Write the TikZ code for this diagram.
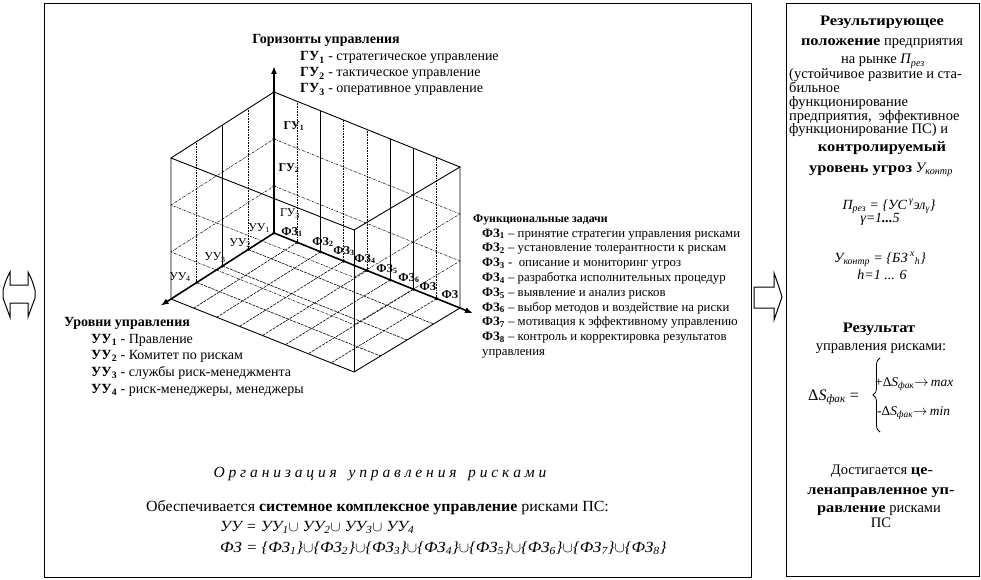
\documentclass[tikz,border=0pt]{standalone}
\usepackage{fontspec}
\usepackage{graphicx}
\setmainfont{Liberation Serif}
\usetikzlibrary{arrows.meta,calc,decorations.pathreplacing}
\newcommand\fsz[1]{\fontsize{#1}{#1}\selectfont}
\newcommand\sbs[1]{\textsubscript{#1}}
\newcommand\sps[1]{\textsuperscript{#1}}
\newcommand\wb[1]{\scalebox{1.13}[1]{\textbf{#1}}}
\begin{document}
\begin{tikzpicture}[x=1pt,y=-1pt,
  boxframe/.style={draw, line width=1.3pt, inner sep=0, anchor=north west},
  axisline/.style={line width=1.6pt, -{Latex[length=8pt,width=6pt]}},
  cubeedge/.style={line width=0.9pt},
  wallline/.style={line width=0.6pt, densely dotted},
  wallsolid/.style={line width=0.5pt},
  levelline/.style={line width=0.5pt, dash pattern=on 2.5pt off 1pt on 0.6pt off 1pt},
  floorline/.style={line width=0.6pt, dash pattern=on 3pt off 1pt},
  axlbl/.style={inner sep=0, font=\fsz{12}\bfseries},
  axlblr/.style={inner sep=0, font=\fsz{12}},
  lw/.style={inner sep=0, anchor=base west},
  lc/.style={inner sep=0, anchor=base},
  arrowshape/.style={draw, line width=1pt, line join=miter},
]
\useasboundingbox (0,0) rectangle (981,580);
% frames
\node[boxframe, minimum width=707pt, minimum height=574pt] (mainframe) at (43.5,3) {};
\node[boxframe, minimum width=193pt, minimum height=573pt] (rightframe) at (786,3) {};
% arrows
\draw[arrowshape] (10,272) .. controls (6,280) .. (3,290) -- (3,298) .. controls (6,308) .. (10,317)
  -- (10,303) -- (28,303) -- (28,317) .. controls (32,308) .. (35,298) -- (35,290) .. controls (32,280) .. (28,272)
  -- (28,285) -- (10,285) -- cycle;
\draw[arrowshape] (754,287) -- (774,287) -- (774,273) .. controls (778,284) .. (782,297)
  .. controls (778,309) .. (774,320) -- (774,308) -- (754,308) -- cycle;

% cube corners
\coordinate (O) at (274,233);
\coordinate (PA) at (460,308);
\coordinate (PB) at (171,299);
\coordinate (PAB) at (354,372);
\coordinate (T) at (274,92);
\coordinate (TA) at (460,167);
\coordinate (TB) at (171,158);
\coordinate (TAB) at (354,230);
% floor grid
\foreach \i in {1,...,7} \draw[floorline] ($(O)!{\i/8}!(PA)$) -- ($(PB)!{\i/8}!(PAB)$);
\foreach \j in {1,2,3} \draw[floorline] ($(O)!{\j/4}!(PB)$) -- ($(PA)!{\j/4}!(PAB)$);
% wall verticals
\foreach \i in {1,3,4,7} \draw[wallline] ($(O)!{\i/8}!(PA)$) -- ($(T)!{\i/8}!(TA)$);
\foreach \i in {2,5,6} \draw[wallsolid] ($(O)!{\i/8}!(PA)$) -- ($(T)!{\i/8}!(TA)$);
\foreach \j in {1,3} \draw[wallline] ($(O)!{\j/4}!(PB)$) -- ($(T)!{\j/4}!(TB)$);
\draw[wallsolid] ($(O)!0.5!(PB)$) -- ($(T)!0.5!(TB)$);
% levels
\foreach \f in {0.3333,0.6667}
  \draw[levelline] ($(O)!\f!(T)$) -- ($(PA)!\f!(TA)$) -- ($(PAB)!\f!(TAB)$) -- ($(PB)!\f!(TB)$) -- cycle;
% cube edges
\draw[cubeedge] (T) -- (TA) -- (TAB) -- (TB) -- cycle;
\draw[cubeedge] (TB) -- (PB) -- (PAB) -- (PA) -- (TA);
\draw[cubeedge] (TAB) -- (PAB);
% axes
\coordinate (Zend) at (274,66);
\coordinate (Aend) at ($(O)!1.07!(PA)$);
\coordinate (Bend) at ($(O)!1.1!(PB)$);
\draw[axisline] (O) -- (Zend);
\draw[axisline] (O) -- (Aend);
\draw[axisline] (O) -- (Bend);
% tick dots
\foreach \i in {1,...,7} \fill ($(O)!{\i/8}!(PA)$) circle (1.7);
\foreach \j in {1,2,3} \fill ($(O)!{\j/4}!(PB)$) circle (1.7);
\foreach \f in {0.3333,0.6667,1} \fill ($(O)!\f!(T)$) circle (1.7);
\fill (O) circle (1.7);
% axis labels
\node[axlbl] (g1) at (294,126) {ГУ\sbs{1}};
\node[axlbl] (g2) at (289,168) {ГУ\sbs{2}};
\node[axlblr] (g3) at (290,214) {ГУ\sbs{3}};
\node[axlbl] (f1) at (292,232) {ФЗ\sbs{1}};
\node[axlbl] (f2) at (323,242) {ФЗ\sbs{2}};
\node[axlbl] (f3) at (344,251) {ФЗ\sbs{3}};
\node[axlbl] (f4) at (365,259) {ФЗ\sbs{4}};
\node[axlbl] (f5) at (387,269) {ФЗ\sbs{5}};
\node[axlbl] (f6) at (409,278) {ФЗ\sbs{6}};
\node[axlbl] (f7) at (428,287) {ФЗ};
\node[axlbl] (f8) at (450,295) {ФЗ};
\node[axlblr] (u4) at (180,277) {УУ\sbs{4}};
\node[axlblr] (u3) at (215,258) {УУ\sbs{3}};
\node[axlblr] (u2) at (240,243) {УУ\sbs{2}};
\node[axlblr] (u1) at (259,228) {УУ\sbs{1}};

% Горизонты
\node[lc, font=\fsz{14}\bfseries] (gt) at (326,44) {Горизонты управления};
\node[lw, font=\fsz{14}] (gl1) at (300,61) {\textbf{ГУ\sbs{1}} - стратегическое управление};
\node[lw, font=\fsz{14}] (gl2) at (300,77) {\textbf{ГУ\sbs{2}} - тактическое управление};
\node[lw, font=\fsz{14}] (gl3) at (300,93) {\textbf{ГУ\sbs{3}} - оперативное управление};
% Функциональные задачи
\node[lw, font=\fsz{11.8}\bfseries] (ft) at (473,222) {Функциональные задачи};
\node[lw, font=\fsz{12.8}] (fl1) at (482,237) {\textbf{ФЗ\sbs{1}} – принятие стратегии управления рисками};
\node[lw, font=\fsz{12.8}] (fl2) at (482,251.8) {\textbf{ФЗ\sbs{2}} – установление толерантности к рискам};
\node[lw, font=\fsz{12.8}] (fl3) at (482,266.6) {\textbf{ФЗ\sbs{3}} - \ описание и мониторинг угроз};
\node[lw, font=\fsz{12.8}] (fl4) at (482,281.4) {\textbf{ФЗ\sbs{4}} – разработка исполнительных процедур};
\node[lw, font=\fsz{12.8}] (fl5) at (482,296.2) {\textbf{ФЗ\sbs{5}} – выявление и анализ рисков};
\node[lw, font=\fsz{12.8}] (fl6) at (482,311) {\textbf{ФЗ\sbs{6}} – выбор методов и воздействие на риски};
\node[lw, font=\fsz{12.8}] (fl7) at (482,325.8) {\textbf{ФЗ\sbs{7}} – мотивация к эффективному управлению};
\node[lw, font=\fsz{12.8}] (fl8) at (482,340.6) {\textbf{ФЗ\sbs{8}} – контроль и корректировка результатов};
\node[lw, font=\fsz{12.8}] (fl9) at (482,355.4) {управления};
% Уровни управления
\node[lw, font=\fsz{14}\bfseries] (ut) at (64,326) {Уровни управления};
\node[lw, font=\fsz{14}] (ul1) at (91,343) {\textbf{УУ\sbs{1}} - Правление};
\node[lw, font=\fsz{14}] (ul2) at (91,359.7) {\textbf{УУ\sbs{2}} - Комитет по рискам};
\node[lw, font=\fsz{14}] (ul3) at (91,376.4) {\textbf{УУ\sbs{3}} - службы риск-менеджмента};
\node[lw, font=\fsz{14}] (ul4) at (91,393) {\textbf{УУ\sbs{4}} - риск-менеджеры, менеджеры};
% bottom texts
\node[lc, font=\fsz{15.5}\itshape] (org) at (380,477) {О р г а н и з а ц и я \ \ у п р а в л е н и я \ \ р и с к а м и};
\node[lw, font=\fsz{15.5}] (ob) at (146,511) {\scalebox{1.03}[1]{Обеспечивается \textbf{системное комплексное управление} рисками ПС:}};
\node[lw, font=\fsz{15.5}\itshape] (uu) at (220,531) {\scalebox{1.04}[1]{УУ = УУ\sbs{1}$\cup$ УУ\sbs{2}$\cup$ УУ\sbs{3}$\cup$ УУ\sbs{4}}};
\node[lw, font=\fsz{15.5}\itshape] (fz) at (220,552) {\scalebox{1.08}[1]{ФЗ = \{ФЗ\sbs{1}\}$\cup$\{ФЗ\sbs{2}\}$\cup$\{ФЗ\sbs{3}\}$\cup$\{ФЗ\sbs{4}\}$\cup$\{ФЗ\sbs{5}\}$\cup$\{ФЗ\sbs{6}\}$\cup$\{ФЗ\sbs{7}\}$\cup$\{ФЗ\sbs{8}\}}};

% right panel
\node[lc, font=\fsz{14.5}] (r1) at (882,26) {\wb{Результирующее}};
\node[lc, font=\fsz{14.5}] (r2) at (882,46) {\wb{положение} предприятия};
\node[lc, font=\fsz{14.5}] (r3) at (883,64) {на рынке \textit{П\sbs{рез}}};
\node[lw, font=\fsz{14.5}] (r4) at (789,79) {(устойчивое развитие и ста-};
\node[lw, font=\fsz{14.5}] (r5) at (789,93) {бильное};
\node[lw, font=\fsz{14.5}] (r6) at (789,107) {функционирование};
\node[lw, font=\fsz{14.5}] (r7) at (789,121) {предприятия, \ эффективное};
\node[lw, font=\fsz{14.5}] (r8) at (789,134) {функционирование ПС) и};
\node[lc, font=\fsz{14.5}] (r9) at (882,152) {\wb{контролируемый}};
\node[lc, font=\fsz{14.5}] (r10) at (881,172) {\wb{уровень угроз} \textit{У\sbs{контр}}};
\node[lc, font=\fsz{14}\itshape] (r11) at (889,209) {П\sbs{рез} = \{УС\,\sps{γ}эл\sbs{γ}\}};
\node[lc, font=\fsz{14}\itshape] (r12) at (880,222) {γ=1\textbf{...}5};
\node[lc, font=\fsz{14}\itshape] (r13) at (880,262) {У\sbs{контр} = \{БЗ\,\sps{x}\sbs{h}\}};
\node[lc, font=\fsz{14}\itshape] (r14) at (882,279) {h=1 ... 6};
\node[lc, font=\fsz{14.5}] (r15) at (879,332) {\wb{Результат}};
\node[lc, font=\fsz{14.5}] (r16) at (881,350) {управления рисками:};
\node[lw, font=\fsz{16}] (ds) at (808,400) {Δ\textit{S\sbs{фак}} =};
\draw[line width=0.8pt, decorate, decoration={brace, amplitude=7pt}] (880,432) -- (880,358);
\node[lw, font=\fsz{13.4}] (dmax) at (875,386) {+Δ\textit{S\sbs{фак}}$\rightarrow$\,\textit{max}};
\node[lw, font=\fsz{13.4}] (dmin) at (877,415) {-Δ\textit{S\sbs{фак}}$\rightarrow$\,\textit{min}};
\node[lc, font=\fsz{14.5}] (r17) at (882,474) {Достигается \wb{це-}};
\node[lc, font=\fsz{14.5}] (r18) at (881,494) {\wb{ленаправленное уп-}};
\node[lc, font=\fsz{14.5}] (r19) at (879,512) {\wb{равление} рисками};
\node[lc, font=\fsz{14.5}] (r20) at (881,527) {ПС};
\end{tikzpicture}
\end{document}
